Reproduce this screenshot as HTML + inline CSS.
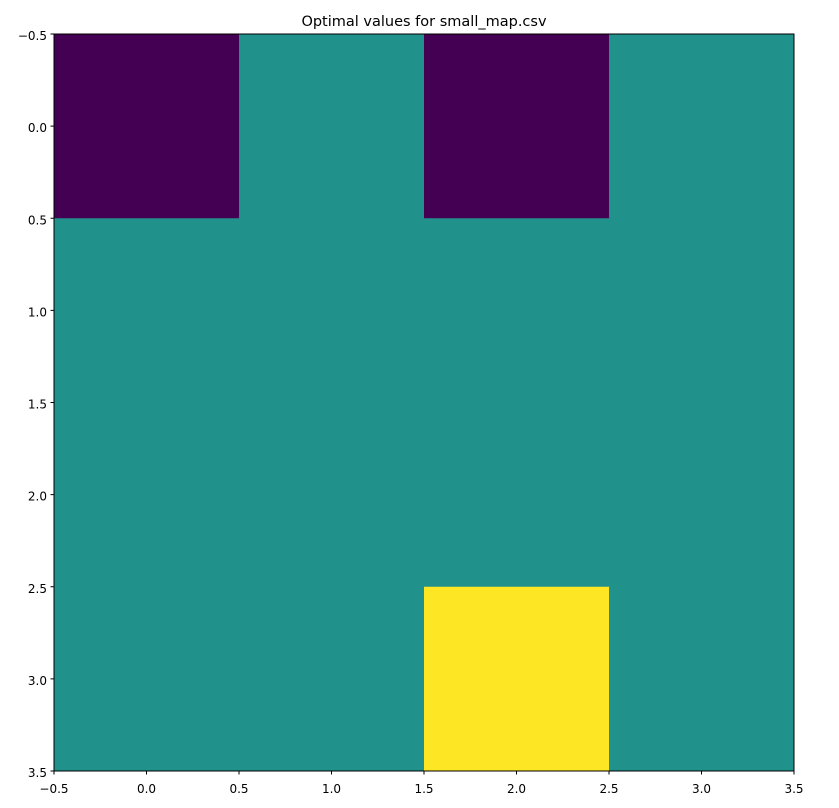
<!DOCTYPE html>
<html><head><meta charset="utf-8"><style>
body{margin:0;background:#fff;}
svg{display:block;font-family:"DejaVu Sans","Liberation Sans",sans-serif;}
</style></head><body>
<svg id="chart" width="839" height="808">
<text x="424" y="26" text-anchor="middle" font-size="14.5" fill="#000">Optimal values for small_map.csv</text>
<g id="cells"></g>
<rect x="54" y="34" width="740" height="737" fill="none" stroke="#000" stroke-width="1"/>
<g id="xticks"></g><g id="yticks"></g>
</svg>
<script>
const rows = [0,1,2,3];
const cols = [0,1,2,3];
const values = [
 [0,0.5,0,0.5],
 [0.5,0.5,0.5,0.5],
 [0.5,0.5,0.5,0.5],
 [0.5,0.5,1,0.5]
];
const xTickLabels = ["-0.5","0.0","0.5","1.0","1.5","2.0","2.5","3.0","3.5"];
const yTickLabels = ["-0.5","0.0","0.5","1.0","1.5","2.0","2.5","3.0","3.5"];
const L=54,R=794,T=34,B=771;
const xs=v=>L+(v+0.5)/4*(R-L);
const ys=v=>T+(v+0.5)/4*(B-T);
function color(v){ if(v<=0.25) return "#440154"; if(v>=0.75) return "#fde725"; return "#21918c"; }
const NS="http://www.w3.org/2000/svg";
const cg=document.getElementById('cells');
rows.forEach(r=>cols.forEach(c=>{
 const el=document.createElementNS(NS,'rect');
 el.setAttribute('x',xs(c-0.5));el.setAttribute('y',ys(r-0.5));
 el.setAttribute('width',xs(c+0.5)-xs(c-0.5)+0.5);el.setAttribute('height',ys(r+0.5)-ys(r-0.5)+0.5);
 el.setAttribute('fill',color(values[r][c]));
 
 
 cg.appendChild(el);
}));
const xg=document.getElementById('xticks');
xTickLabels.forEach(t=>{
 const x=xs(parseFloat(t));
 const l=document.createElementNS(NS,'line');
 l.setAttribute('x1',x);l.setAttribute('x2',x);l.setAttribute('y1',B);l.setAttribute('y2',B+3.5);l.setAttribute('stroke','#000');
 
 
 xg.appendChild(l);
 const tx=document.createElementNS(NS,'text');
 tx.setAttribute('x',x);tx.setAttribute('y',B+22);tx.setAttribute('text-anchor','middle');tx.setAttribute('font-size','12');
 tx.textContent=t.replace('-','\u2212');
 
 
 xg.appendChild(tx);
});
const yg=document.getElementById('yticks');
yTickLabels.forEach(t=>{
 const y=ys(parseFloat(t));
 const l=document.createElementNS(NS,'line');
 l.setAttribute('x1',L-3.5);l.setAttribute('x2',L);l.setAttribute('y1',y);l.setAttribute('y2',y);l.setAttribute('stroke','#000');
 
 
 yg.appendChild(l);
 const tx=document.createElementNS(NS,'text');
 tx.setAttribute('x',L-7);tx.setAttribute('y',y+6);tx.setAttribute('text-anchor','end');tx.setAttribute('font-size','12');
 tx.textContent=t.replace('-','\u2212');
 
 
 yg.appendChild(tx);
});
</script>
</body></html>
